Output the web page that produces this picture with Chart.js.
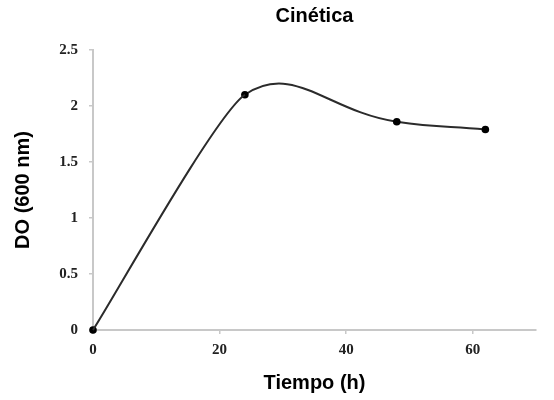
<!DOCTYPE html>
<html>
<head>
<meta charset="utf-8">
<script src="https://cdn.jsdelivr.net/npm/chart.js@4/dist/chart.umd.min.js"></script>
<style>
  html, body { margin: 0; padding: 0; background: #fff; }
  #wrap { width: 554px; height: 400px; }
</style>
</head>
<body>
<div id="wrap"><canvas id="c" width="554" height="400"></canvas></div>
<script>
const hours = [0, 24, 48, 62];
const od600 = [0, 2.1, 1.86, 1.79];
const xTicks = [0, 20, 40, 60];
const yTicks = [0, 0.5, 1, 1.5, 2, 2.5];

const points = hours.map((h, i) => ({ x: h, y: od600[i] }));
const axisGray = '#c8c8c8';
const lineColor = '#2b2b2b';
const tickFont = { family: 'Liberation Serif', weight: 'bold', size: 15 };

new Chart(document.getElementById('c'), {
  type: 'line',
  data: {
    datasets: [
      {
        // first (growth) segment, drawn with a gentler smoothing
        data: points.slice(0, 3),
        borderColor: lineColor,
        borderWidth: 2,
        tension: 0.15,
        pointRadius: 0,
        fill: false,
        clip: false,
        segment: { borderColor: ctx => ctx.p0DataIndex === 0 ? lineColor : 'rgba(0,0,0,0)' }
      },
      {
        data: points,
        borderColor: lineColor,
        borderWidth: 2,
        tension: 0.45,
        pointRadius: 3.8,
        pointBackgroundColor: '#000',
        pointBorderColor: '#000',
        pointBorderWidth: 0,
        fill: false,
        clip: false,
        segment: { borderColor: ctx => ctx.p0DataIndex === 0 ? 'rgba(0,0,0,0)' : lineColor }
      }
    ]
  },
  options: {
    responsive: false,
    animation: false,
    layout: { padding: { left: 0, right: 18, top: 0, bottom: 0 } },
    plugins: {
      legend: { display: false },
      tooltip: { enabled: false },
      title: {
        display: true,
        text: 'Cinética',
        fullSize: false,
        color: '#000',
        font: { family: 'Liberation Sans', weight: 'bold', size: 20 },
        padding: { top: 4, bottom: 22 }
      }
    },
    scales: {
      x: {
        type: 'linear',
        min: 0,
        max: 70,
        afterBuildTicks: s => { s.ticks = xTicks.map(v => ({ value: v })); },
        afterFit: s => { s.height = 70; },
        ticks: { color: '#222', font: tickFont, padding: 7, maxRotation: 0 },
        grid: { display: true, drawOnChartArea: false, drawTicks: true, tickLength: 4, color: axisGray, lineWidth: 1.5 },
        border: { display: true, color: axisGray, width: 2 },
        title: {
          display: true,
          text: 'Tiempo (h)',
          color: '#000',
          font: { family: 'Liberation Sans', weight: 'bold', size: 20 },
          padding: { top: 0, bottom: 5 }
        }
      },
      y: {
        type: 'linear',
        min: 0,
        max: 2.5,
        afterBuildTicks: s => { s.ticks = yTicks.map(v => ({ value: v })); },
        afterFit: s => { s.width = 93; },
        ticks: { color: '#222', font: tickFont, padding: 11, callback: v => String(v) },
        grid: { display: true, drawOnChartArea: false, drawTicks: true, tickLength: 4, color: axisGray, lineWidth: 1.5 },
        border: { display: true, color: axisGray, width: 2 },
        title: {
          display: true,
          text: 'DO (600 nm)',
          color: '#000',
          font: { family: 'Liberation Sans', weight: 'bold', size: 20 },
          padding: { top: 11, bottom: 0 }
        }
      }
    }
  }
});
</script>
</body>
</html>
